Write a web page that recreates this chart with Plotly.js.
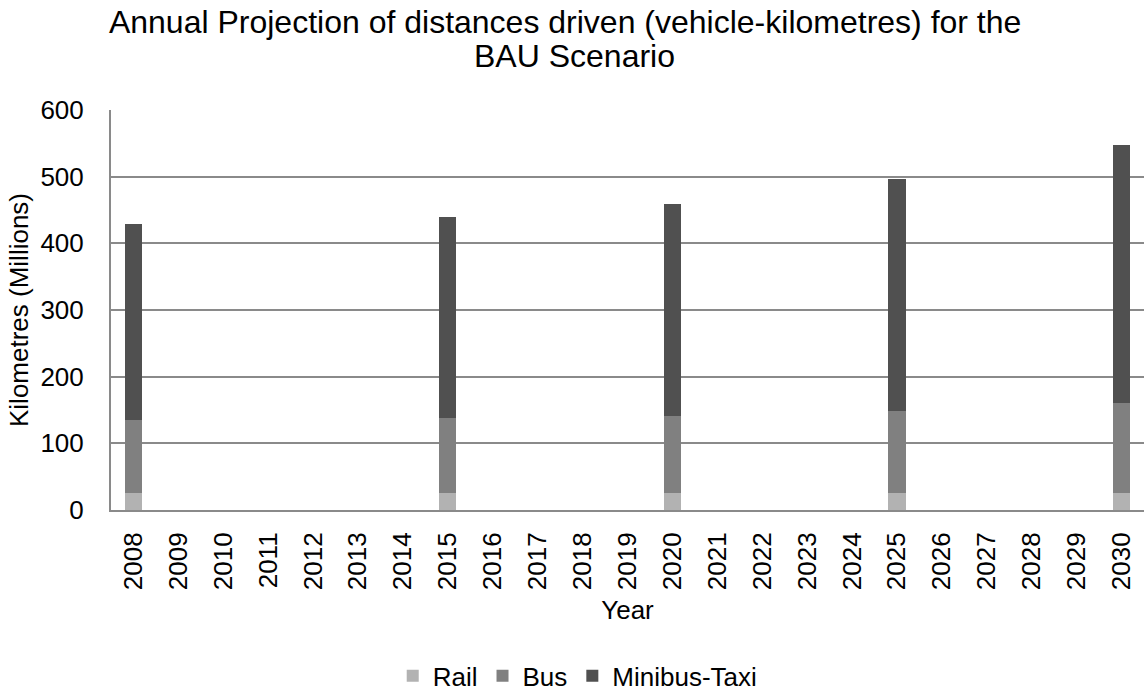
<!DOCTYPE html>
<html>
<head>
<meta charset="utf-8">
<script src="https://cdn.plot.ly/plotly-3.0.1.min.js"></script>
<style>
  body { margin: 0; padding: 0; background: #fff; }
  #chart { width: 1144px; height: 691px; }
</style>
</head>
<body>
<div id="chart"></div>
<script>
var years = ['2008', '2009', '2010', '2011', '2012', '2013', '2014', '2015', '2016', '2017', '2018',
    '2019', '2020', '2021', '2022', '2023', '2024', '2025', '2026', '2027', '2028', '2029', '2030'];
// only 2008, 2015, 2020, 2025 and 2030 have values
var rail    = [25.5, null, null, null, null, null, null, 25.5, null, null, null, null, 25.5,
    null, null, null, null, 25.5, null, null, null, null, 25.5];
var bus     = [109, null, null, null, null, null, null, 112, null, null, null, null, 115,
    null, null, null, null, 122.5, null, null, null, null, 134.5];
var minibus = [294, null, null, null, null, null, null, 302, null, null, null, null, 318,
    null, null, null, null, 349, null, null, null, null, 388];
var yTicks = [0, 100, 200, 300, 400, 500, 600];

var font = 'Liberation Sans, Arial, sans-serif';

var data = [{
    x: years, y: rail, name: 'Rail', type: 'bar',
    marker: {color: '#b2b2b2'}
}, {
    x: years, y: bus, name: 'Bus', type: 'bar',
    marker: {color: '#808080'}
}, {
    x: years, y: minibus, name: 'Minibus-Taxi', type: 'bar',
    marker: {color: '#505050'}
}];

var layout = {
    width: 1144,
    height: 691,
    barmode: 'stack',
    bargap: 0.62,
    font: {family: font, size: 26, color: '#000'},
    paper_bgcolor: '#fff',
    plot_bgcolor: '#fff',
    margin: {t: 110, b: 181, l: 111, r: 0},
    // title is on two lines in the original, second line set as an annotation
    // so the line spacing stays tight
    title: {
        text: 'Annual Projection of distances driven (vehicle-kilometres) for the',
        font: {size: 32, family: font, color: '#000'},
        x: 0.494, xref: 'container', xanchor: 'center',
        y: 0.968, yref: 'container', yanchor: 'middle'
    },
    annotations: [{
        text: 'BAU Scenario',
        font: {size: 32, family: font, color: '#000'},
        xref: 'paper', yref: 'paper',
        x: 0.449, xanchor: 'center',
        y: 1.135, yanchor: 'middle',
        showarrow: false
    }],
    xaxis: {
        type: 'category',
        tickangle: -90,
        showgrid: false,
        showline: true,
        linecolor: '#8a8a8a',
        linewidth: 2,
        ticks: '',
        ticklabelstandoff: 10,
        tickfont: {size: 26},
        title: {text: 'Year', font: {size: 26}, standoff: 12}
    },
    yaxis: {
        range: [0, 600],
        tickvals: yTicks,
        showgrid: true,
        gridcolor: '#8a8a8a',
        gridwidth: 2,
        zeroline: false,
        showline: true,
        linecolor: '#8a8a8a',
        linewidth: 2,
        ticks: '',
        ticklabelstandoff: 20,
        tickfont: {size: 26},
        title: {text: 'Kilometres (Millions)', font: {size: 26}, standoff: 4}
    },
    showlegend: true,
    legend: {
        orientation: 'h',
        x: 0.505, xref: 'container', xanchor: 'center',
        y: 0.022, yref: 'container', yanchor: 'middle',
        font: {size: 26},
        itemwidth: 30,
        traceorder: 'normal'
    }
};

Plotly.newPlot('chart', data, layout, {displayModeBar: false});
</script>
</body>
</html>
